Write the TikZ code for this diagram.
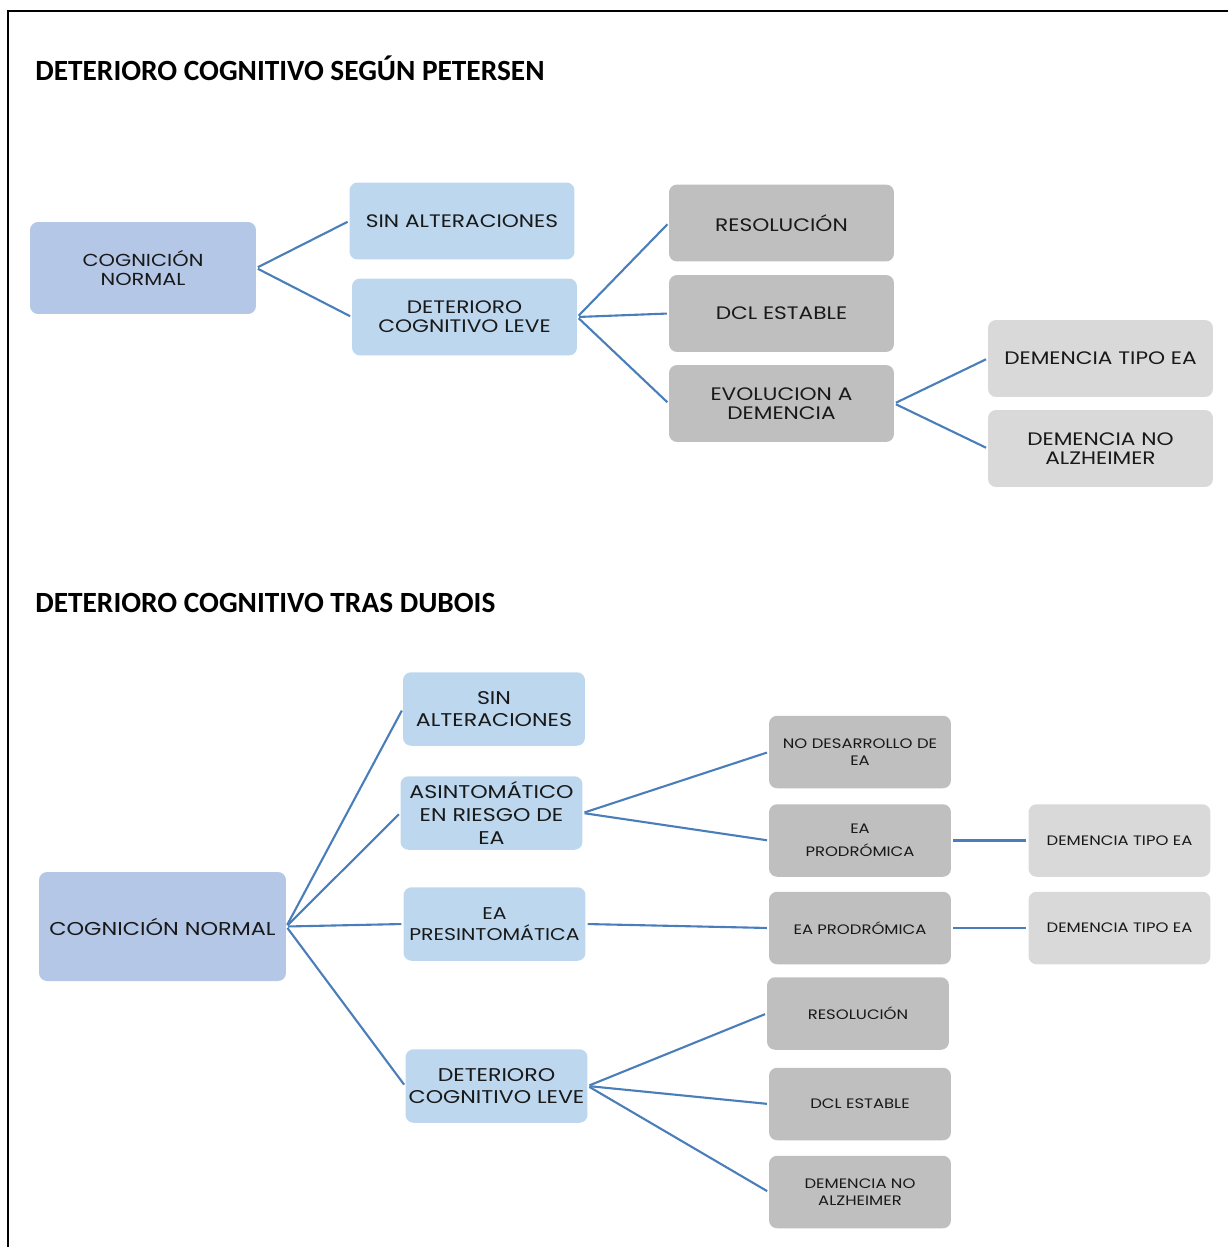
\documentclass[tikz,border=0pt]{standalone}
\usepackage{fontspec}
\newfontfamily\titlefont{Carlito}
\newfontfamily\boxfont[FakeStretch=1.2]{Poppins}

\definecolor{cnblue}{HTML}{B4C7E7}
\definecolor{paleblue}{HTML}{BDD7EE}
\definecolor{midgray}{HTML}{BFBFBF}
\definecolor{palegray}{HTML}{D9D9D9}
\definecolor{linkblue}{HTML}{4A7EBB}

\tikzset{
	box/.style={rounded corners=0.16cm, align=center, inner sep=0pt, text=black!90},
	topbox/.style={box, minimum width=4.5cm, minimum height=1.54cm, font=\boxfont\fontsize{10.3}{10.8}\selectfont},
	leftbox/.style={box, fill=paleblue, minimum width=3.64cm, minimum height=1.47cm, font=\boxfont\fontsize{10.5}{13}\selectfont},
	rightbox/.style={box, minimum width=3.64cm, minimum height=1.45cm, font=\boxfont\fontsize{7.8}{9.4}\selectfont},
	link/.style={draw=linkblue, line width=1.2pt, shorten <=1pt, shorten >=1pt},
	title/.style={font=\titlefont\bfseries\fontsize{16.7}{19}\selectfont, anchor=base west, inner sep=0pt}
}

\begin{document}
\begin{tikzpicture}[x=0.02cm, y=-0.02cm]
		\useasboundingbox (0,0) rectangle (1228,1247);
		
		%frame
		\draw[line width=1.2pt] (1228,11) -- (8,11) -- (8,1247);
		
		%titles
		\node[title] (tpet) at (35,81) {DETERIORO COGNITIVO SEGÚN PETERSEN};
		\node[title] (tdub) at (35,612) {DETERIORO COGNITIVO TRAS DUBOIS};
		
		%petersen boxes
		\node[topbox, fill=cnblue, minimum width=4.52cm, minimum height=1.84cm, font=\boxfont\fontsize{9.9}{10.8}\selectfont] (cn1) at (143,268) {COGNICIÓN\\NORMAL};
		\node[topbox, fill=paleblue] (sa1) at (462,221) {SIN ALTERACIONES};
		\node[topbox, fill=paleblue] (dcl1) at (464.5,317) {DETERIORO\\COGNITIVO LEVE};
		\node[topbox, fill=midgray] (res1) at (781.5,223) {RESOLUCIÓN};
		\node[topbox, fill=midgray] (est1) at (781.5,313.5) {DCL ESTABLE};
		\node[topbox, fill=midgray] (evo1) at (781.5,403.5) {EVOLUCION A\\DEMENCIA};
		\node[topbox, fill=palegray] (dea1) at (1100.5,358.5) {DEMENCIA TIPO EA};
		\node[topbox, fill=palegray] (dna1) at (1100.5,448.5) {DEMENCIA NO\\ALZHEIMER};
		
		%petersen links
		\draw[link] (cn1.east) -- (sa1.west);
		\draw[link] (cn1.east) -- (dcl1.west);
		\draw[link] (dcl1.east) -- (res1.west);
		\draw[link] (dcl1.east) -- (est1.west);
		\draw[link] (dcl1.east) -- (evo1.west);
		\draw[link] (evo1.east) -- (dea1.west);
		\draw[link] (evo1.east) -- (dna1.west);
		
		%dubois boxes
		\node[leftbox, fill=cnblue, minimum width=4.94cm, minimum height=2.18cm, font=\boxfont\fontsize{10.6}{13}\selectfont] (cn2) at (162.5,926.5) {COGNICIÓN NORMAL};
		\node[leftbox] (sa2) at (494,709) {SIN\\ALTERACIONES};
		\node[leftbox] (asi) at (491.5,813) {ASINTOMÁTICO\\EN RIESGO DE\\EA};
		\node[leftbox, font=\boxfont\fontsize{9.7}{12}\selectfont] (eap) at (494.5,924) {EA\\PRESINTOMÁTICA};
		\node[leftbox] (dcl2) at (496.5,1086) {DETERIORO\\COGNITIVO LEVE};
		
		\node[rightbox, fill=midgray] (nde) at (860,752) {NO DESARROLLO DE\\EA};
		\node[rightbox, fill=midgray, font=\boxfont\fontsize{7.8}{13}\selectfont] (eapr1) at (860,840.5) {EA\\PRODRÓMICA};
		\node[rightbox, fill=midgray] (eapr2) at (860,928) {EA PRODRÓMICA};
		\node[rightbox, fill=midgray] (res2) at (858,1013.5) {RESOLUCIÓN};
		\node[rightbox, fill=midgray] (est2) at (860,1104) {DCL ESTABLE};
		\node[rightbox, fill=midgray] (dna2) at (860,1192) {DEMENCIA NO\\ALZHEIMER};
		\node[rightbox, fill=palegray] (dea2) at (1119.5,840.5) {DEMENCIA TIPO EA};
		\node[rightbox, fill=palegray] (dea3) at (1119.5,928) {DEMENCIA TIPO EA};
		
		%dubois links
		\draw[link] (cn2.east) -- (sa2.west);
		\draw[link] (cn2.east) -- (asi.west);
		\draw[link] (cn2.east) -- (eap.west);
		\draw[link] (cn2.east) -- (dcl2.west);
		\draw[link] (asi.east) -- (nde.west);
		\draw[link] (asi.east) -- (eapr1.west);
		\draw[link] (eap.east) -- (eapr2.west);
		\draw[link] (eapr1.east) -- (dea2.west);
		\draw[link] (eapr2.east) -- (dea3.west);
		\draw[link] (dcl2.east) -- (res2.west);
		\draw[link] (dcl2.east) -- (est2.west);
		\draw[link] (dcl2.east) -- (dna2.west);
	
		\end{tikzpicture}
\end{document}
